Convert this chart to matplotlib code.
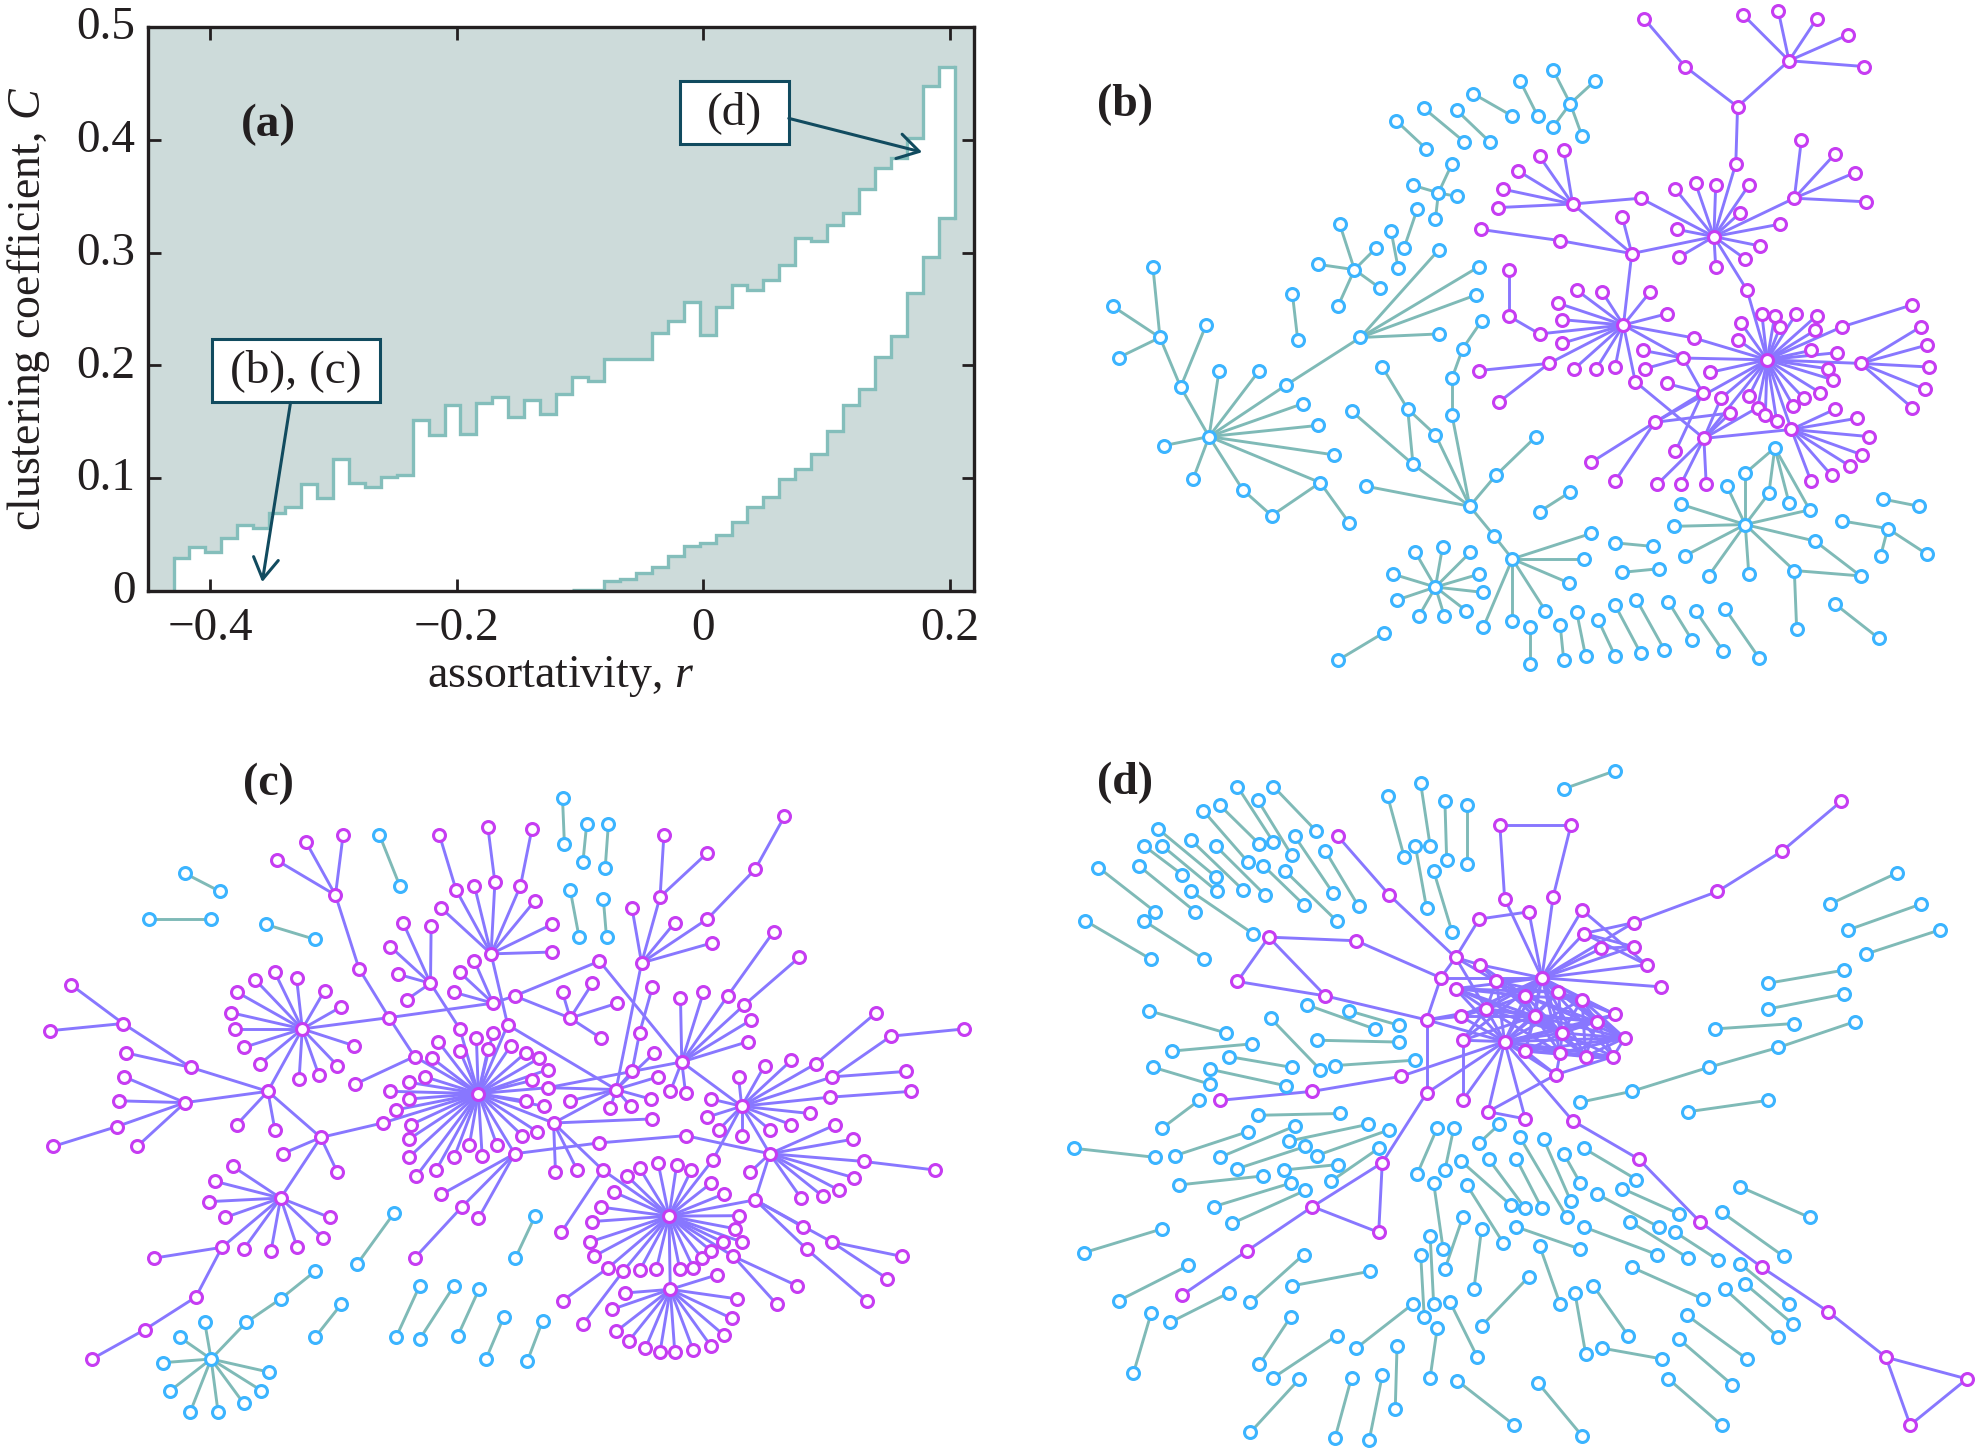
import matplotlib.pyplot as plt
from matplotlib.collections import LineCollection
from matplotlib.patches import Rectangle
from matplotlib.transforms import ScaledTranslation

plt.rcParams["font.family"] = ["Liberation Serif", "DejaVu Serif"]
plt.rcParams["mathtext.fontset"] = "custom"
plt.rcParams["mathtext.rm"] = "Liberation Serif"
plt.rcParams["mathtext.it"] = "Liberation Serif:italic"

# panel a
r_start = -0.43
r_width = 0.01294
c_upper = [.0289, .0387, .0348, .0474, .0585, .0557, .0688, .0743, .0945, .0822, .1166, .096, .0925,
           .1012, .1028, .1518, .138, .165, .139, .167, .172, .154, .169, .157, .175, .19, .1866, .2055,
           .2055, .2055, .229, .239, .256, .227, .252, .2715, .267, .2755, .289, .3126, .3107, .3245,
           .335, .356, .375, .384, .402, .448, .4644]
c_lower = [0] * 25 + [.0005, .0005, .0087, .0107, .0158, .021, .031, .0395, .0427, .0494, .0613, .0747,
                      .083, .0996, .1083, .1213, .142, .165, .1787, .2075, .2257, .2644, .296, .331]

# panel b, stars are (hub, leaves)
b_blue = [
    ((269, 978), [(193, 998), (242, 1073), (326, 1097), (457, 1081), (481, 1019), (453, 953), (428, 904),
                  (400, 862), (354, 830), (286, 830), (221, 867)]),
    ((221, 867), [(186, 756), (264, 728)]),
    ((186, 756), [(174, 597), (106, 686), (116, 801)]),
    ((457, 1081), [(375, 1155), (506, 1171)]),
    ((375, 1155), [(326, 1097)]),
    ((400, 862), [(525, 756)]),
    ((525, 756), [(658, 559), (726, 597), (720, 661), (658, 748)]),
    ((410, 658), [(419, 761)]),
    ((515, 604), [(490, 502), (453, 592), (552, 555), (559, 646), (487, 686)]),
    ((577, 518), [(589, 601)]),
    ((621, 469), [(599, 555)]),
    ((657, 432), [(680, 367), (614, 415), (688, 440), (652, 490)]),
    ((586, 271), [(636, 333)]),
    ((632, 242), [(701, 318)]),
    ((688, 247), [(744, 318)]),
    ((716, 210), [(782, 260)]),
    ((795, 181), [(825, 260)]),
    ((880, 232), [(851, 157), (922, 181), (851, 284), (900, 305)]),
    ((710, 1134), [(534, 1089), (614, 1040), (652, 974), (680, 930), (754, 1065), (751, 1200)]),
    ((614, 1040), [(605, 916), (510, 921)]),
    ((605, 916), [(562, 822), (652, 974)]),
    ((680, 930), [(680, 847)]),
    ((680, 847), [(698, 781)]),
    ((698, 781), [(730, 719)]),
    ((754, 1065), [(822, 978)]),
    ((751, 1200), [(782, 1252)]),
    ((782, 1252), [(915, 1195), (903, 1252), (878, 1306), (838, 1368), (782, 1392), (733, 1405)]),
    ((652, 1315), [(618, 1237), (664, 1225), (711, 1237), (726, 1286), (733, 1327), (704, 1368), (667, 1380),
                   (624, 1380), (587, 1344), (580, 1286)]),
    ((565, 1417), [(487, 1479)]),
    ((812, 1405), [(812, 1488)]),
    ((863, 1401), [(869, 1479)]),
    ((891, 1372), [(906, 1470)]),
    ((927, 1388), [(956, 1470)]),
    ((956, 1356), [(999, 1463)]),
    ((992, 1343), [(1039, 1455)]),
    ((1046, 1348), [(1086, 1434)]),
    ((1092, 1368), [(1139, 1459)]),
    ((1142, 1364), [(1200, 1475)]),
    ((1327, 1352), [(1402, 1430)]),
    ((880, 1102), [(828, 1146)]),
    ((956, 1216), [(1020, 1224)]),
    ((968, 1282), [(1030, 1274)]),
    ((1176, 1175), [(1145, 1089), (1176, 1060), (1216, 1105), (1285, 1142), (1294, 1212), (1259, 1278),
                    (1182, 1286), (1114, 1290), (1074, 1245), (1055, 1179), (1068, 1130)]),
    ((1176, 1060), [(1226, 1003)]),
    ((1226, 1003), [(1216, 1105), (1250, 1126), (1285, 1142)]),
    ((1259, 1278), [(1371, 1290), (1263, 1410)]),
    ((1294, 1212), [(1371, 1290)]),
    ((1409, 1118), [(1470, 1134)]),
    ((1417, 1184), [(1340, 1167), (1405, 1245), (1483, 1241)]),
]
b_purple = [
    ((1163, 239), [(1074, 149), (1250, 136), (1160, 367)]),
    ((1074, 149), [(1005, 42)]),
    ((1250, 136), [(1173, 34), (1232, 25), (1297, 42), (1350, 78), (1377, 149)]),
    ((1160, 367), [(1123, 530)]),
    ((1123, 530), [(1058, 424), (1092, 411), (1126, 415), (1182, 415), (1167, 477), (1235, 502), (1201, 551),
                   (1176, 580), (1126, 597), (1064, 576), (1061, 514), (1259, 444), (984, 568), (1179, 650),
                   (999, 444)]),
    ((1259, 444), [(1271, 313), (1327, 346), (1361, 387), (1380, 452)]),
    ((884, 457), [(869, 337), (828, 350), (792, 383), (767, 424), (757, 465), (999, 444), (984, 568)]),
    ((984, 568), [(863, 539), (968, 486), (970, 728)]),
    ((863, 539), [(729, 514)]),
    ((970, 728), [(891, 650), (934, 654), (1015, 654), (1043, 703), (859, 679), (866, 716), (828, 748),
                  (866, 769), (844, 814), (887, 826), (924, 826), (956, 822), (1089, 757), (1071, 802), (990, 855)]),
    ((828, 748), [(776, 708)]),
    ((776, 708), [(776, 604)]),
    ((844, 814), [(726, 830), (760, 900)]),
    ((1213, 806), [(1089, 757), (1179, 650), (1169, 724), (1204, 703), (1226, 707), (1235, 732), (1262, 703),
                   (1297, 707), (1294, 740), (1340, 732), (1287, 785), (1331, 790), (1371, 814), (1316, 826),
                   (1325, 851), (1303, 880), (1275, 892), (1257, 909), (1229, 942), (1210, 930), (1197, 913),
                   (1182, 888), (1254, 962), (1163, 761), (1071, 802), (1117, 834), (1106, 982), (1023, 946),
                   (1135, 892)]),
    ((1340, 732), [(1458, 683)]),
    ((1371, 814), [(1473, 732), (1483, 773), (1486, 822), (1480, 872), (1458, 913)]),
    ((1071, 802), [(1003, 785), (1006, 826), (1104, 880)]),
    ((1104, 880), [(1043, 859), (1023, 946), (1058, 1011)]),
    ((990, 855), [(1106, 982)]),
    ((1023, 946), [(915, 1036), (956, 1077), (1151, 925)]),
    ((1106, 982), [(1027, 1085), (1067, 1085), (1110, 1085), (1254, 962), (1135, 892), (1151, 925), (1197, 913)]),
    ((1254, 962), [(1327, 917), (1365, 937), (1386, 978), (1374, 1019), (1353, 1044), (1322, 1065), (1287, 1077)]),
]

# panel c
c_blue = [
    ((290, 295), [(345, 335)]),
    ((233, 396), [(331, 396)]),
    ((417, 408), [(494, 441)]),
    ((595, 210), [(627, 323)]),
    ((882, 128), [(885, 230)]),
    ((920, 185), [(914, 270)]),
    ((954, 185), [(949, 282)]),
    ((894, 331), [(908, 436)]),
    ((946, 351), [(951, 436)]),
    ((618, 1046), [(560, 1159)]),
    ((839, 1053), [(808, 1146)]),
    ((535, 1248), [(494, 1321)]),
    ((658, 1207), [(621, 1321)]),
    ((712, 1207), [(658, 1325)]),
    ((751, 1215), [(718, 1317)]),
    ((790, 1276), [(762, 1369)]),
    ((851, 1284), [(827, 1373)]),
    ((331, 1369), [(321, 1288), (282, 1321), (256, 1377), (267, 1439), (298, 1487), (342, 1487), (382, 1467),
                   (410, 1439), (422, 1398), (386, 1288)]),
    ((386, 1288), [(440, 1236)]),
    ((440, 1236), [(494, 1175)]),
]
c_purple = [
    ((750, 782), [(687, 667), (678, 704), (721, 688), (747, 659), (773, 647), (765, 684), (801, 676), (824, 692),
                  (845, 704), (859, 729), (834, 753), (859, 769), (824, 798), (853, 810), (868, 847), (842, 866),
                  (819, 875), (807, 915), (779, 895), (756, 919), (736, 895), (712, 923), (684, 951), (653, 964),
                  (641, 923), (641, 883), (644, 851), (621, 818), (641, 794), (612, 777), (641, 757), (667, 745),
                  (650, 700), (721, 639), (796, 630), (600, 847)]),
    ((650, 700), [(557, 761), (610, 614)]),
    ((610, 614), [(563, 506), (474, 639), (773, 582)]),
    ((563, 506), [(526, 343)]),
    ((526, 343), [(434, 266), (480, 226), (538, 210)]),
    ((474, 639), [(431, 514), (465, 526), (400, 530), (372, 558), (362, 603), (368, 639), (382, 680), (408, 716),
                  (469, 749), (500, 741), (529, 720), (555, 676), (535, 590), (509, 554), (420, 777)]),
    ((420, 777), [(299, 724), (290, 802), (371, 851), (431, 862), (503, 879)]),
    ((299, 724), [(193, 627), (198, 692)]),
    ((193, 627), [(112, 542), (78, 643)]),
    ((290, 802), [(195, 745), (187, 798), (183, 855), (215, 899)]),
    ((183, 855), [(83, 899)]),
    ((503, 879), [(443, 915), (529, 956), (440, 1013), (600, 847)]),
    ((440, 1013), [(365, 943), (337, 976), (327, 1021), (353, 1056), (348, 1122), (382, 1126), (425, 1130),
                   (466, 1122), (506, 1101), (517, 1056)]),
    ((348, 1122), [(241, 1146), (307, 1232)]),
    ((307, 1232), [(227, 1304)]),
    ((227, 1304), [(144, 1369)]),
    ((721, 639), [(675, 538)]),
    ((675, 538), [(632, 404), (676, 412), (612, 457), (624, 518), (638, 574)]),
    ((773, 582), [(744, 489), (721, 514), (712, 558), (807, 566)]),
    ((770, 473), [(796, 630), (692, 372), (715, 331), (744, 323), (776, 315), (816, 323), (839, 355), (865, 408),
                  (865, 469)]),
    ((715, 331), [(689, 210)]),
    ((776, 315), [(765, 193)]),
    ((816, 323), [(834, 197)]),
    ((807, 566), [(940, 489), (894, 615)]),
    ((940, 489), [(1069, 712)]),
    ((894, 615), [(882, 558), (929, 538), (968, 582), (942, 659)]),
    ((796, 630), [(966, 773)]),
    ((1006, 493), [(991, 372), (1035, 347), (1058, 404), (1109, 396), (1116, 449), (966, 773)]),
    ((1035, 347), [(1041, 210), (1109, 250)]),
    ((1109, 396), [(1184, 286)]),
    ((1184, 286), [(1230, 169)]),
    ((991, 733), [(1003, 647), (859, 769), (1069, 712)]),
    ((1003, 647), [(1023, 546)]),
    ((966, 773), [(991, 733), (1026, 692), (1032, 745), (1020, 794), (989, 810), (957, 814), (894, 798), (859, 769),
                  (868, 847)]),
    ((868, 847), [(1023, 838), (871, 956), (905, 951), (945, 951)]),
    ((945, 951), [(880, 1089), (1049, 1053)]),
    ((807, 915), [(940, 891), (692, 1005), (724, 1033), (750, 1058)]),
    ((724, 1033), [(650, 1146)]),
    ((940, 891), [(1075, 875)]),
    ((1075, 875), [(1207, 915)]),
    ((1069, 712), [(1067, 570), (1103, 558), (1141, 566), (1167, 586), (1178, 619), (1173, 667), (1051, 777),
                   (1075, 781), (1163, 810)]),
    ((1141, 566), [(1213, 424)]),
    ((1167, 586), [(1253, 481)]),
    ((1163, 810), [(1158, 745), (1199, 720), (1241, 708), (1279, 716), (1305, 745), (1301, 790), (1270, 826),
                   (1241, 851), (1207, 862), (1163, 875), (1127, 862), (1109, 834), (1115, 794), (1207, 915),
                   (1118, 928)]),
    ((1279, 716), [(1374, 603)]),
    ((1305, 745), [(1397, 655), (1420, 733)]),
    ((1397, 655), [(1512, 639)]),
    ((1301, 790), [(1429, 777)]),
    ((1207, 915), [(1310, 851), (1337, 883), (1354, 932), (1339, 968), (1316, 996), (1290, 1009), (1256, 1013),
                   (1176, 956), (1184, 1017)]),
    ((1354, 932), [(1466, 951)]),
    ((1184, 1017), [(1049, 1053), (1259, 1077), (1304, 1110), (1265, 1126)]),
    ((1304, 1110), [(1414, 1142), (1391, 1191)]),
    ((1265, 1126), [(1359, 1240)]),
    ((1118, 928), [(1049, 1053)]),
    ((1049, 1053), [(1003, 947), (1032, 936), (1061, 940), (1084, 951), (1115, 980), (1135, 1004), (983, 964),
                    (963, 1000), (942, 1033), (928, 1065), (925, 1110), (931, 1142), (954, 1167), (977, 1175),
                    (1003, 1173), (1029, 1171), (1066, 1171), (1087, 1167), (1101, 1146), (1115, 1130), (1133, 1110),
                    (1150, 1142), (1163, 1110), (1153, 1081), (1158, 1052), (1051, 1215)]),
    ((954, 1167), [(882, 1240)]),
    ((977, 1175), [(914, 1292)]),
    ((1150, 1142), [(1250, 1207), (1218, 1248)]),
    ((1051, 1215), [(1124, 1183), (980, 1223), (1156, 1236), (960, 1259), (1147, 1279), (966, 1308), (1135, 1316),
                    (986, 1329), (1115, 1341), (1012, 1345), (1087, 1349), (1035, 1353), (1058, 1353)]),
]

# panel d
d_blue = [
    ((956, 68), [(869, 108)]), ((378, 103), [(450, 201)]), ((317, 103), [(378, 226)]), ((351, 132), [(409, 255)]),
    ((287, 144), [(354, 230)]), ((259, 156), [(335, 270)]), ((183, 197), [(280, 302)]), ((239, 222), [(326, 331)]),
    ((280, 234), [(364, 343)]), ((190, 234), [(283, 335)]), ((159, 234), [(224, 298)]), ((414, 213), [(479, 339)]),
    ((361, 278), [(429, 364)]), ((398, 290), [(485, 400)]), ((466, 246), [(522, 368)]), ((150, 278), [(246, 380)]),
    ((82, 282), [(178, 380)]), ((239, 335), [(343, 428)]), ((60, 400), [(171, 485)]), ((159, 400), [(261, 485)]),
    ((571, 124), [(599, 258)]), ((627, 96), [(643, 234)]), ((668, 136), [(671, 266)]), ((705, 144), [(705, 274)]),
    ((618, 234), [(637, 372)]), ((649, 290), [(680, 424)]), ((1433, 294), [(1319, 363)]), ((1473, 363), [(1350, 420)]),
    ((1505, 420), [(1381, 473)]), ((1343, 509), [(1214, 538)]), ((1343, 562), [(1214, 595)]),
    ((1259, 627), [(1124, 639)]), ((1361, 623), [(1232, 680)]), ((1232, 680), [(1114, 724)]),
    ((1114, 724), [(984, 777)]), ((984, 777), [(897, 801)]), ((1214, 797), [(1080, 822)]), ((168, 599), [(298, 648)]),
    ((342, 672), [(206, 688)]), ((302, 700), [(409, 724)]), ((175, 724), [(270, 761)]), ((270, 728), [(400, 765)]),
    ((435, 586), [(549, 639)]), ((506, 599), [(590, 631)]), ((451, 664), [(590, 668)]), ((373, 615), [(457, 729)]),
    ((618, 708), [(482, 720)]), ((252, 797), [(190, 858)]), ((351, 830), [(491, 826)]), ((41, 903), [(178, 923)]),
    ((335, 866), [(212, 919)]), ((414, 854), [(287, 923)]), ((538, 850), [(404, 887)]), ((574, 862), [(451, 919)]),
    ((432, 899), [(317, 948)]), ((556, 903), [(475, 976)]), ((487, 939), [(395, 951)]), ((361, 964), [(218, 984)]),
    ((407, 980), [(277, 1032)]), ((432, 996), [(308, 1069)]), ((190, 1081), [(57, 1134)]), ((234, 1162), [(116, 1240)]),
    ((302, 1223), [(203, 1288)]), ((171, 1268), [(141, 1401)]), ((429, 1138), [(339, 1244)]),
    ((541, 1175), [(410, 1207)]), ((407, 1276), [(354, 1381)]), ((485, 1317), [(378, 1410)]),
    ((422, 1413), [(339, 1531)]), ((510, 1410), [(482, 1544)]), ((562, 1405), [(540, 1548)]),
    ((587, 1341), [(584, 1479)]), ((614, 1247), [(518, 1345)]), ((627, 1138), [(633, 1276)]),
    ((643, 1097), [(649, 1248)]), ((655, 1300), [(643, 1410)]), ((677, 1244), [(723, 1365)]),
    ((689, 1417), [(785, 1515)]), ((825, 1421), [(900, 1539)]), ((810, 1187), [(730, 1296)]),
    ((730, 1081), [(717, 1215)]), ((698, 1056), [(668, 1170)]), ((649, 980), [(665, 1126)]),
    ((705, 984), [(767, 1113)]), ((695, 931), [(779, 1028)]), ((742, 927), [(804, 1036)]),
    ((789, 927), [(832, 1036)]), ((795, 879), [(875, 1056)]), ((835, 883), [(881, 1020)]),
    ((869, 915), [(897, 980)]), ((903, 903), [(992, 972)]), ((655, 858), [(621, 960)]), ((683, 858), [(668, 951)]),
    ((760, 850), [(726, 891)]), ((789, 1077), [(897, 1126)]), ((828, 1118), [(863, 1248)]),
    ((888, 1223), [(906, 1357)]), ((919, 1207), [(978, 1317)]), ((934, 1345), [(1036, 1369)]),
    ((903, 1077), [(1027, 1138)]), ((925, 1004), [(1030, 1077)]), ((968, 992), [(1064, 1048)]),
    ((981, 1065), [(1080, 1146)]), ((1058, 1089), [(1130, 1150)]), ((1136, 1044), [(1241, 1142)]),
    ((1167, 988), [(1285, 1056)]), ((984, 1166), [(1104, 1236)]), ((1167, 1158), [(1250, 1247)]),
    ((1176, 1203), [(1257, 1292)]), ((1142, 1215), [(1232, 1321)]), ((1077, 1272), [(1179, 1369)]),
    ((1064, 1325), [(1154, 1426)]), ((1046, 1413), [(1136, 1515)]),
]
d_purple = [
    ((487, 213), [(574, 343)]),
    ((574, 343), [(686, 481)]),
    ((761, 189), [(881, 189), (769, 351)]),
    ((881, 189), [(851, 347)]),
    ((832, 526), [(769, 351), (851, 347), (810, 380), (900, 376), (903, 428), (932, 461), (987, 457), (1009, 497),
                  (1034, 546), (727, 497), (661, 526), (987, 404)]),
    ((810, 380), [(726, 396)]),
    ((726, 396), [(686, 481)]),
    ((900, 376), [(1009, 497)]),
    ((903, 428), [(987, 404), (987, 457), (1009, 497)]),
    ((932, 461), [(987, 457)]),
    ((987, 404), [(1129, 335)]),
    ((1129, 335), [(1238, 246)]),
    ((1238, 246), [(1338, 136)]),
    ((370, 436), [(518, 444), (317, 534), (466, 566)]),
    ((317, 534), [(466, 566)]),
    ((466, 566), [(637, 619)]),
    ((518, 444), [(661, 526)]),
    ((661, 526), [(686, 481), (637, 619)]),
    ((686, 481), [(727, 497), (755, 534), (738, 595)]),
    ((727, 497), [(755, 534), (804, 566)]),
    ((637, 619), [(637, 781), (695, 611), (769, 667), (738, 595)]),
    ((637, 781), [(769, 667), (562, 935)]),
    ((562, 935), [(444, 1032), (556, 1089)]),
    ((444, 1032), [(556, 1089), (333, 1130)]),
    ((333, 1130), [(224, 1227)]),
    ((287, 797), [(444, 777)]),
    ((444, 777), [(593, 744)]),
    ((593, 744), [(769, 667)]),
    ((698, 664), [(698, 797)]),
    ((769, 667), [(741, 822), (804, 838), (856, 740), (884, 842), (698, 797)]),
    ((741, 822), [(804, 838), (856, 740)]),
    ((856, 740), [(953, 700), (863, 692), (804, 688)]),
    ((884, 842), [(996, 927)]),
    ((996, 927), [(1099, 1065)]),
    ((1099, 1065), [(1204, 1166)]),
    ((1204, 1166), [(1316, 1264)]),
    ((1316, 1264), [(1414, 1365)]),
    ((1414, 1365), [(1551, 1413), (1455, 1515)]),
    ((1551, 1413), [(1455, 1515)]),
]
# densely linked nodes in the middle of panel d
d_core = [(832, 526), (769, 667), (755, 534), (686, 550), (738, 595), (695, 611), (804, 566), (860, 558),
          (820, 611), (900, 574), (866, 648), (925, 623), (956, 607), (972, 659), (953, 700), (906, 700),
          (863, 692), (804, 688), (698, 664)]
d_core_links = {
    0: [1, 2, 3, 4, 5, 6, 7, 8, 9, 10, 11, 12, 13, 14, 15, 16, 17, 18],
    1: [2, 3, 4, 5, 6, 7, 8, 9, 10, 11, 12, 13, 14, 15, 16, 17, 18],
    2: [4, 6, 8, 10, 9],
    3: [4, 6, 8, 10, 7],
    4: [5, 6, 8, 10, 11, 16, 18],
    5: [8],
    6: [8, 10, 9, 11, 13],
    7: [8, 9, 10, 11, 12, 13],
    8: [10, 16, 11, 13, 15, 17, 18],
    9: [10, 11, 12, 13, 15],
    10: [11, 13, 14, 15, 16, 17],
    11: [12, 13, 14, 15],
    13: [14, 15, 16, 17],
    14: [15, 16],
    15: [16, 17],
    16: [17],
}
for i, others in d_core_links.items():
    d_purple.append((d_core[i], [d_core[j] for j in others]))

W, H = 1977, 1449
BLUE = "#3BB4FF"
PURPLE = "#C63CF2"
TEAL = "#7FBAB7"
VIOLET = "#8877FF"
SHADE = "#CDDBDA"
STEP = "#84BEBB"
DARK = "#114B5F"
INK = "#231F20"


def panel(x, y, w, h):
    # crop box in image pixels, inside it the layout units run 0..1568
    ax = fig.add_axes([x / W, 1 - (y + h) / H, w / W, h / H])
    ax.set_xlim(0, 1568)
    ax.set_ylim(1568, 0)
    ax.axis("off")
    return ax


def draw_net(ax, stars, edge_col, node_col):
    segs = [(hub, leaf) for hub, leaves in stars for leaf in leaves]
    ax.add_collection(LineCollection(segs, colors=edge_col, linewidths=2.1, zorder=1, capstyle="round"))
    nodes = sorted({p for s in segs for p in s})
    ax.plot([p[0] for p in nodes], [p[1] for p in nodes], "o", ms=8.6, mfc="white", mec=node_col, mew=2.2,
            zorder=2, clip_on=False)


fig = plt.figure(figsize=(W / 100, H / 100), dpi=100)

ax = fig.add_axes([148 / W, 1 - 591 / H, 826 / W, 564 / H])
edges = [r_start + i * r_width for i in range(len(c_upper) + 1)]
ax.set_facecolor(SHADE)
ax.stairs(c_upper, edges, baseline=c_lower, fill=True, color="white", zorder=1)
ax.stairs(c_upper, edges, baseline=None, color=STEP, lw=2.4, zorder=2)
ax.stairs(c_lower[25:], edges[25:], baseline=None, color=STEP, lw=2.4, zorder=2)
ax.plot([edges[0], edges[0]], [0, c_upper[0]], color=STEP, lw=2.4, zorder=2)
ax.plot([edges[-1], edges[-1]], [c_lower[-1], c_upper[-1]], color=STEP, lw=2.4, zorder=2)
ax.set_xlim(-0.4507, 0.2197)
ax.set_ylim(0, 0.5)
ax.set_xticks([-0.4, -0.2, 0, 0.2])
ax.set_xticklabels(["\u22120.4", "\u22120.2", "0", "0.2"])
ax.set_yticks([0, 0.1, 0.2, 0.3, 0.4, 0.5])
ax.set_yticklabels(["0", "0.1", "0.2", "0.3", "0.4", "0.5"])
ax.tick_params(direction="in", top=True, right=True, length=9, width=2, labelsize=34, colors=INK)
ax.tick_params(axis="x", pad=12)
ax.tick_params(axis="y", pad=9)
# the y tick labels sit a little above their ticks
for lab in ax.get_yticklabels():
    lab.set_transform(lab.get_transform() + ScaledTranslation(0, 4 / 100, fig.dpi_scale_trans))
for s in ax.spines.values():
    s.set_linewidth(2.4)
    s.set_color(INK)
    s.set_zorder(5)
ax.set_xlabel("assortativity, $r$", fontsize=33, color=INK)
ax.set_ylabel("clustering coefficient, $C$", fontsize=33, color=INK)
ax.xaxis.set_label_coords(0.5, -0.111)
ax.yaxis.set_label_coords(-0.116, 0.5)
ax.text(-0.3526, 0.413, "(a)", fontsize=34, fontweight="bold", ha="center", va="center", color=INK)

for x0, x1, y0, y1, label in [(-0.3987, -0.262, 0.1672, 0.2233, "(b), (c)"),
                              (-0.0192, 0.0694, 0.3964, 0.4522, "(d)")]:
    ax.add_patch(Rectangle((x0, y0), x1 - x0, y1 - y0, fc="white", ec=DARK, lw=2.2, zorder=4))
    ax.text((x0 + x1) / 2, (y0 + y1) / 2, label, fontsize=34, ha="center", va="center", color=INK, zorder=5)
head = "->,head_length=1.5,head_width=0.9"
ax.annotate("", xy=(-0.358, 0.0079), xytext=(-0.335, 0.1672),
            arrowprops=dict(arrowstyle=head, color=DARK, lw=2.2, shrinkA=0, shrinkB=0), zorder=4)
ax.annotate("", xy=(0.1776, 0.389), xytext=(0.0694, 0.419),
            arrowprops=dict(arrowstyle=head, color=DARK, lw=2.2, shrinkA=0, shrinkB=0), zorder=4)

ax_b = panel(1050, 0, 927, 700)
draw_net(ax_b, b_blue, TEAL, BLUE)
draw_net(ax_b, b_purple, VIOLET, PURPLE)

ax_c = panel(0, 740, 1000, 709)
draw_net(ax_c, c_blue, TEAL, BLUE)
draw_net(ax_c, c_purple, VIOLET, PURPLE)

ax_d = panel(1050, 740, 927, 709)
draw_net(ax_d, d_blue, TEAL, BLUE)
draw_net(ax_d, d_purple, VIOLET, PURPLE)

for x, y, label in [(1125, 105, "(b)"), (268, 784, "(c)"), (1125, 783, "(d)")]:
    fig.text(x / W, 1 - y / H, label, fontsize=33, fontweight="bold", ha="center", va="center", color=INK)

fig.savefig("out.png", dpi=100)
